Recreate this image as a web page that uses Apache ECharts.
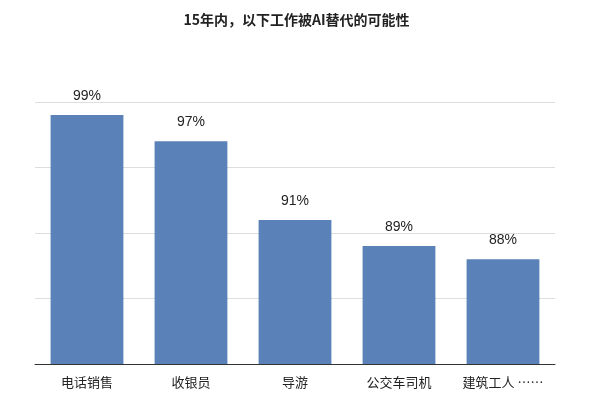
<!DOCTYPE html>
<html>
<head>
<meta charset="utf-8">
<script src="https://cdn.jsdelivr.net/npm/echarts@6/dist/echarts.min.js"></script>
<style>
  html, body { margin: 0; padding: 0; background: #fff; }
  #chart { width: 593px; height: 400px; }
</style>
</head>
<body>
<div id="chart"></div>
<script>
const categories = ["电话销售", "收银员", "导游", "公交车司机", "建筑工人 ……"];
const values = [99, 97, 91, 89, 88];

const chart = echarts.init(document.getElementById("chart"));

const option = {
  animation: false,
  backgroundColor: "#fff",
  title: {
    text: "15年内，以下工作被AI替代的可能性",
    left: "center",
    top: 8,
    textStyle: {
      fontFamily: "Noto Sans CJK SC",
      fontSize: 14,
      fontWeight: "bold",
      color: "#222",
    },
  },
  grid: { left: 35, right: 38, top: 102, bottom: 36 },
  xAxis: {
    type: "category",
    data: categories,
    axisTick: { show: false },
    axisLine: { lineStyle: { color: "#333", width: 1 } },
    axisLabel: {
      color: "#222",
      fontSize: 13,
      margin: 12,
      fontFamily: "Noto Sans CJK SC",
      interval: 0,
    },
  },
  yAxis: {
    type: "value",
    min: 80,
    max: 100,
    interval: 5,
    axisLabel: { show: false },
    axisLine: { show: false },
    axisTick: { show: false },
    splitLine: { lineStyle: { color: "#ddd" } },
  },
  series: [
    {
      type: "bar",
      data: values,
      barWidth: "70%",
      itemStyle: { color: "#5b82b8" },
      label: {
        show: true,
        position: "top",
        distance: 12,
        formatter: "{c}%",
        color: "#222",
        fontSize: 14,
        fontFamily: "Liberation Sans",
      },
    },
  ],
};

chart.setOption(option);
</script>
</body>
</html>
